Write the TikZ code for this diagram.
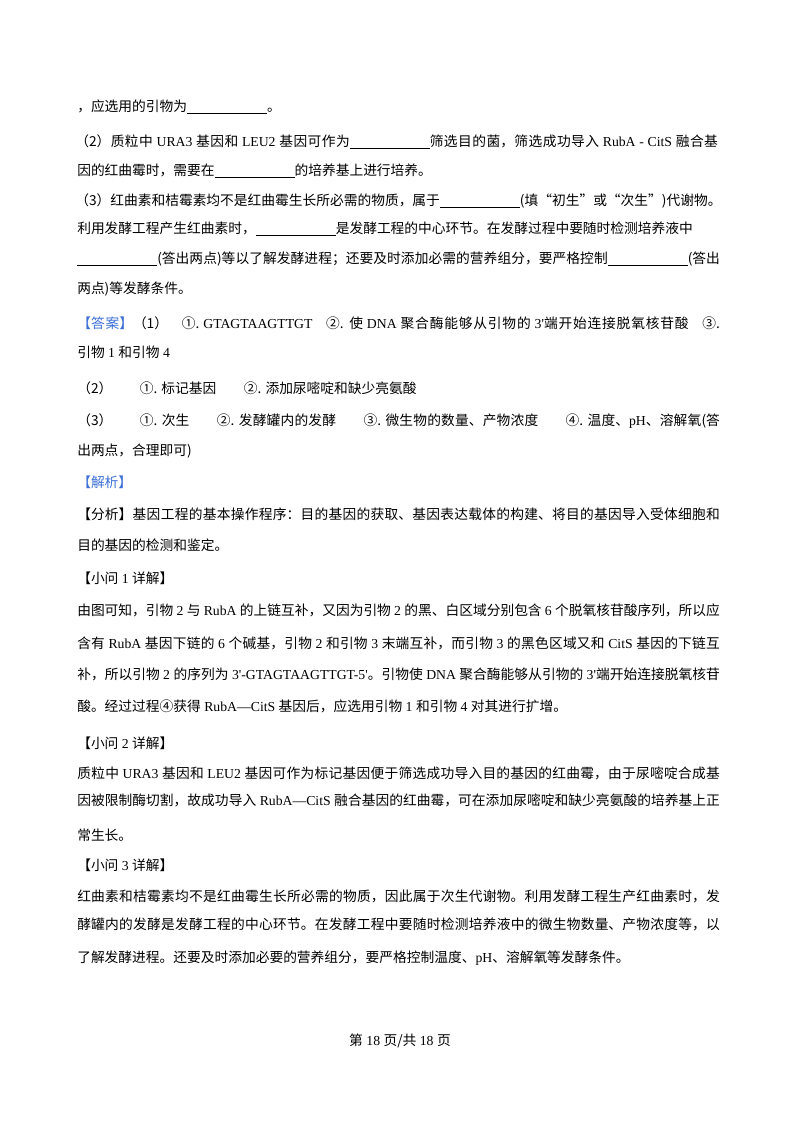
\documentclass[tikz,border=0pt]{standalone}
\usepackage{fontspec}
\setmainfont{Noto Sans CJK SC}
\newfontfamily\en{Liberation Serif}
\XeTeXlinebreaklocale "zh"
\XeTeXlinebreakskip=0pt plus 2pt
\definecolor{ansblue}{HTML}{3B6FD6}
\newcommand{\blank}{\underline{\hspace{60pt}}}
\newcommand{\nofill}{\parfillskip=0pt\relax}
\tikzset{
  txt/.style={anchor=base west, inner sep=0pt, font=\fontsize{10.3pt}{12pt}\selectfont},
  full/.style={txt, text width=482pt, align=justify, execute at begin node=\nofill},
  tag/.style={text=ansblue}
}
\begin{document}
\begin{tikzpicture}[x=0.75pt, y=-0.75pt]
  \useasboundingbox (0,0) rectangle (800,1132);
  % Question
  \node (q1) [txt] at (77, 111) {，应选用的引物为\blank。};
  \node (q2a) [full] at (75, 146) {（2）质粒中{\en\ URA3 }基因和{\en\ LEU2 }基因可作为\blank 筛选目的菌，筛选成功导入{\en\ RubA - CitS }融合基};
  \node (q2b) [txt] at (77, 175) {因的红曲霉时，需要在\blank 的培养基上进行培养。};
  \node (q3a) [txt] at (75, 205) {（3）红曲素和桔霉素均不是红曲霉生长所必需的物质，属于\blank(填“初生”或“次生”)代谢物。};
  \node (q3b) [txt] at (77, 233) {利用发酵工程产生红曲素时，\blank 是发酵工程的中心环节。在发酵过程中要随时检测培养液中};
  \node (q3c) [full] at (77, 263) {\blank(答出两点)等以了解发酵进程；还要及时添加必需的营养组分，要严格控制\blank(答出};
  \node (q3d) [txt] at (77, 293) {两点)等发酵条件。};
  % Answer
  \node (ans1) [full] at (77, 328) {{\color{ansblue}【答案】}（1）\quad ①.{\en\ GTAGTAAGTTGT}\quad ②. 使{\en\ DNA }聚合酶能够从引物的{\en\ 3'}端开始连接脱氧核苷酸\quad ③.};
  \node (ans1b) [txt] at (77, 357) {引物{\en\ 1 }和引物{\en\ 4}};
  \node (ans2) [txt] at (77, 393) {（2）\qquad ①. 标记基因\qquad ②. 添加尿嘧啶和缺少亮氨酸};
  \node (ans3) [full] at (77, 425) {（3）\qquad ①. 次生\qquad ②. 发酵罐内的发酵\qquad ③. 微生物的数量、产物浓度\qquad ④. 温度、{\en pH}、溶解氧(答};
  \node (ans3b) [txt] at (77, 455) {出两点，合理即可)};
  \node (jx) [txt, tag] at (77, 487) {【解析】};
  % Analysis
  \node (fx1) [full] at (77, 519) {【分析】基因工程的基本操作程序：目的基因的获取、基因表达载体的构建、将目的基因导入受体细胞和};
  \node (fx2) [txt] at (77, 550) {目的基因的检测和鉴定。};
  \node (s1) [txt] at (77, 583) {【小问{\en\ 1 }详解】};
  \node (s1a) [full] at (77, 615) {由图可知，引物{\en\ 2 }与{\en\ RubA }的上链互补，又因为引物{\en\ 2 }的黑、白区域分别包含{\en\ 6 }个脱氧核苷酸序列，所以应};
  \node (s1b) [full] at (77, 648) {含有{\en\ RubA }基因下链的{\en\ 6 }个碱基，引物{\en\ 2 }和引物{\en\ 3 }末端互补，而引物{\en\ 3 }的黑色区域又和{\en\ CitS }基因的下链互};
  \node (s1c) [full] at (77, 679) {补，所以引物{\en\ 2 }的序列为{\en\ 3'-GTAGTAAGTTGT-5'}。引物使{\en\ DNA }聚合酶能够从引物的{\en\ 3'}端开始连接脱氧核苷};
  \node (s1d) [txt] at (77, 711) {酸。经过过程④获得{\en\ RubA—CitS }基因后，应选用引物{\en\ 1 }和引物{\en\ 4 }对其进行扩增。};
  \node (s2) [txt] at (77, 748) {【小问{\en\ 2 }详解】};
  \node (s2a) [full] at (77, 778) {质粒中{\en\ URA3 }基因和{\en\ LEU2 }基因可作为标记基因便于筛选成功导入目的基因的红曲霉，由于尿嘧啶合成基};
  \node (s2b) [full] at (77, 805) {因被限制酶切割，故成功导入{\en\ RubA—CitS }融合基因的红曲霉，可在添加尿嘧啶和缺少亮氨酸的培养基上正};
  \node (s2c) [txt] at (77, 840) {常生长。};
  \node (s3) [txt] at (77, 870) {【小问{\en\ 3 }详解】};
  \node (s3a) [full] at (77, 901) {红曲素和桔霉素均不是红曲霉生长所必需的物质，因此属于次生代谢物。利用发酵工程生产红曲素时，发};
  \node (s3b) [full] at (77, 929) {酵罐内的发酵是发酵工程的中心环节。在发酵工程中要随时检测培养液中的微生物数量、产物浓度等，以};
  \node (s3c) [txt] at (77, 962) {了解发酵进程。还要及时添加必要的营养组分，要严格控制温度、{\en pH}、溶解氧等发酵条件。};
  % Footer
  \node (foot) [anchor=base, inner sep=0pt, font=\fontsize{10.3pt}{12pt}\selectfont] at (400, 1045) {第{\en\ 18 }页/共{\en\ 18 }页};
\end{tikzpicture}
\end{document}
